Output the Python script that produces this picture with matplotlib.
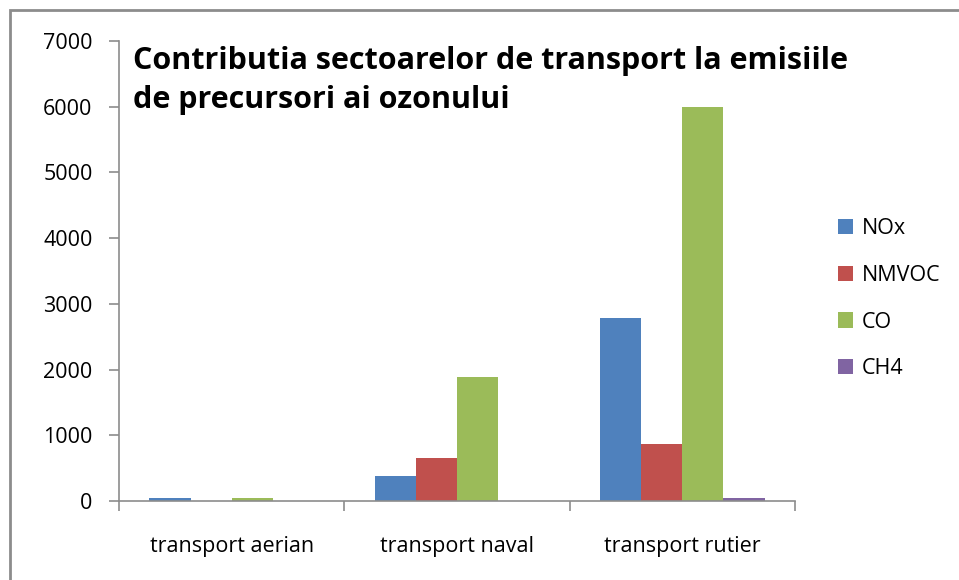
import numpy as np
import matplotlib.pyplot as plt
from matplotlib.patches import Rectangle

categories = ['transport aerian', 'transport naval', 'transport rutier']
series_names = ['NOx', 'NMVOC', 'CO', 'CH4']
nox = [45, 380, 2790]
nmvoc = [0, 655, 870]
co = [45, 1890, 6000]
ch4 = [0, 0, 50]
colors = ['#4F81BD', '#C0504D', '#9BBB59', '#8064A2']

plt.rcParams['font.family'] = ['Open Sans', 'DejaVu Sans']

fig = plt.figure(figsize=(9.59, 5.80), dpi=100)
ax = fig.add_axes([119 / 959, 79 / 580, 676 / 959, 460 / 580])

# chart border (only top and left visible in the frame)
fig.add_artist(Rectangle((10 / 959, -0.1), 1.2, 1.1 - 10 / 580,
                         transform=fig.transFigure, fill=False,
                         edgecolor='#8c8c8c', linewidth=2.0, zorder=0))

x = np.arange(len(categories))
bw = 0.73 / 4
for i, (name, vals) in enumerate(zip(series_names, [nox, nmvoc, co, ch4])):
    ax.bar(x + (i - 1.5) * bw, vals, width=bw, color=colors[i], label=name,
           zorder=2)

ax.set_xlim(-0.5, 2.5)
ax.set_ylim(0, 7000)
ax.set_yticks(range(0, 7001, 1000))
ax.set_yticklabels([str(v) for v in range(0, 7001, 1000)], fontsize=15.5)

ax.set_xticks([-0.5, 0.5, 1.5, 2.5])
ax.set_xticklabels([])
ax.set_xticks(x, minor=True)
ax.set_xticklabels(categories, minor=True, fontsize=15.5)
ax.tick_params(axis='x', which='minor', length=0, pad=25)
ax.tick_params(axis='x', which='major', direction='out', length=7,
               color='#8c8c8c', width=1.2)
ax.tick_params(axis='y', direction='out', length=7, color='#8c8c8c',
               width=1.2, pad=12)

for s in ['top', 'right']:
    ax.spines[s].set_visible(False)
for s in ['left', 'bottom']:
    ax.spines[s].set_color('#8c8c8c')
    ax.spines[s].set_linewidth(1.2)

ax.text(0.02, 0.99,
        'Contributia sectoarelor de transport la emisiile\nde precursori ai ozonului',
        transform=ax.transAxes, ha='left', va='top', fontsize=22,
        fontweight='bold', linespacing=1.42)

ax.legend(loc='center left', bbox_to_anchor=(1.035, 0.44), frameon=False,
          fontsize=15.5, handlelength=0.7, handleheight=0.7,
          labelspacing=1.2, handletextpad=0.4)

fig.savefig('out.png', dpi=100)
